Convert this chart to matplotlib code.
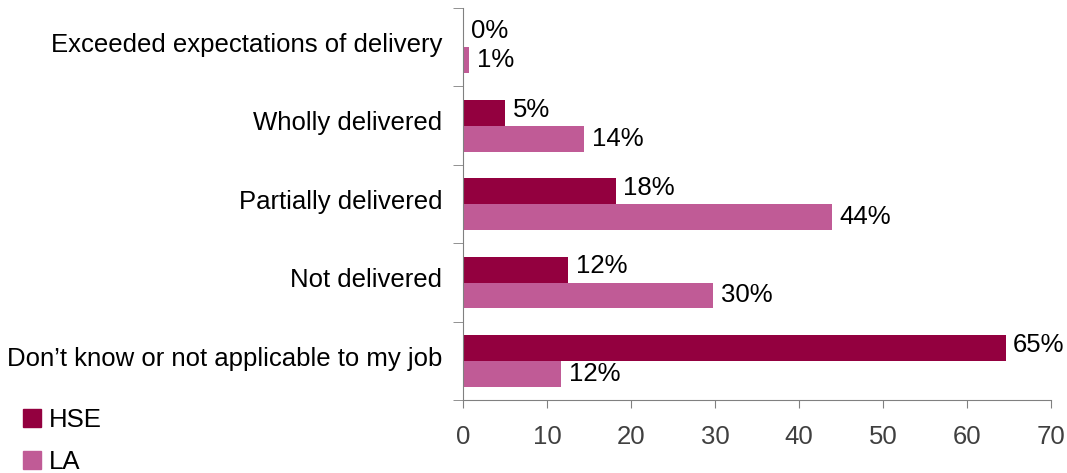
import numpy as np
import matplotlib
matplotlib.use("Agg")
from matplotlib import pyplot as plt
from matplotlib.patches import Patch

plt.rcParams['font.family'] = ['Liberation Sans', 'DejaVu Sans']

categories = ["Exceeded expectations of delivery", "Wholly delivered",
              "Partially delivered", "Not delivered",
              "Don\u2019t know or not applicable to my job"]
hse = [0.0, 5.0, 18.2, 12.5, 64.6]
la = [0.7, 14.4, 43.9, 29.8, 11.7]
hse_labels = ["0%", "5%", "18%", "12%", "65%"]
la_labels = ["1%", "14%", "44%", "30%", "12%"]

HSE_COL = "#93003F"
LA_COL = "#C05B96"
FS = 18.5

fig = plt.figure(figsize=(10.67, 4.73), dpi=100)
ax = fig.add_axes([0.434, 0.154, 0.551, 0.829])

y = np.arange(len(categories))
h = 0.33
ax.barh(y - h/2, hse, height=h, color=HSE_COL)
ax.barh(y + h/2, la, height=h, color=LA_COL)

for yi, v, s in zip(y, hse, hse_labels):
    ax.text(v + 0.9, yi - h/2 - 0.04, s, va='center', ha='left', fontsize=FS, color='black')
for yi, v, s in zip(y, la, la_labels):
    ax.text(v + 0.9, yi + h/2, s, va='center', ha='left', fontsize=FS, color='black')

ax.set_ylim(len(categories) - 0.5, -0.5)
ax.set_xlim(0, 70)
ax.set_xticks(range(0, 71, 10))
# category labels sit a little above the band centre
ax.set_yticks(y - 0.06)
ax.set_yticklabels(categories, fontsize=FS)
ax.set_yticks(np.arange(-0.5, len(categories)), minor=True)
ax.tick_params(axis='y', which='major', length=0, pad=15)
ax.tick_params(axis='y', which='minor', length=7, color='#808080')
ax.tick_params(axis='x', length=6, color='#808080', labelsize=FS,
               labelcolor='#404040', pad=12)

for side in ['top', 'right']:
    ax.spines[side].set_visible(False)
for side in ['left', 'bottom']:
    ax.spines[side].set_color('#808080')

handles = [Patch(color=HSE_COL, label='HSE'), Patch(color=LA_COL, label='LA')]
fig.legend(handles=handles, loc='lower left', bbox_to_anchor=(0.0, -0.05),
           frameon=False, fontsize=FS, handlelength=0.7, handleheight=0.7,
           handletextpad=0.3, labelspacing=0.7)

fig.savefig("out.png", dpi=100)
